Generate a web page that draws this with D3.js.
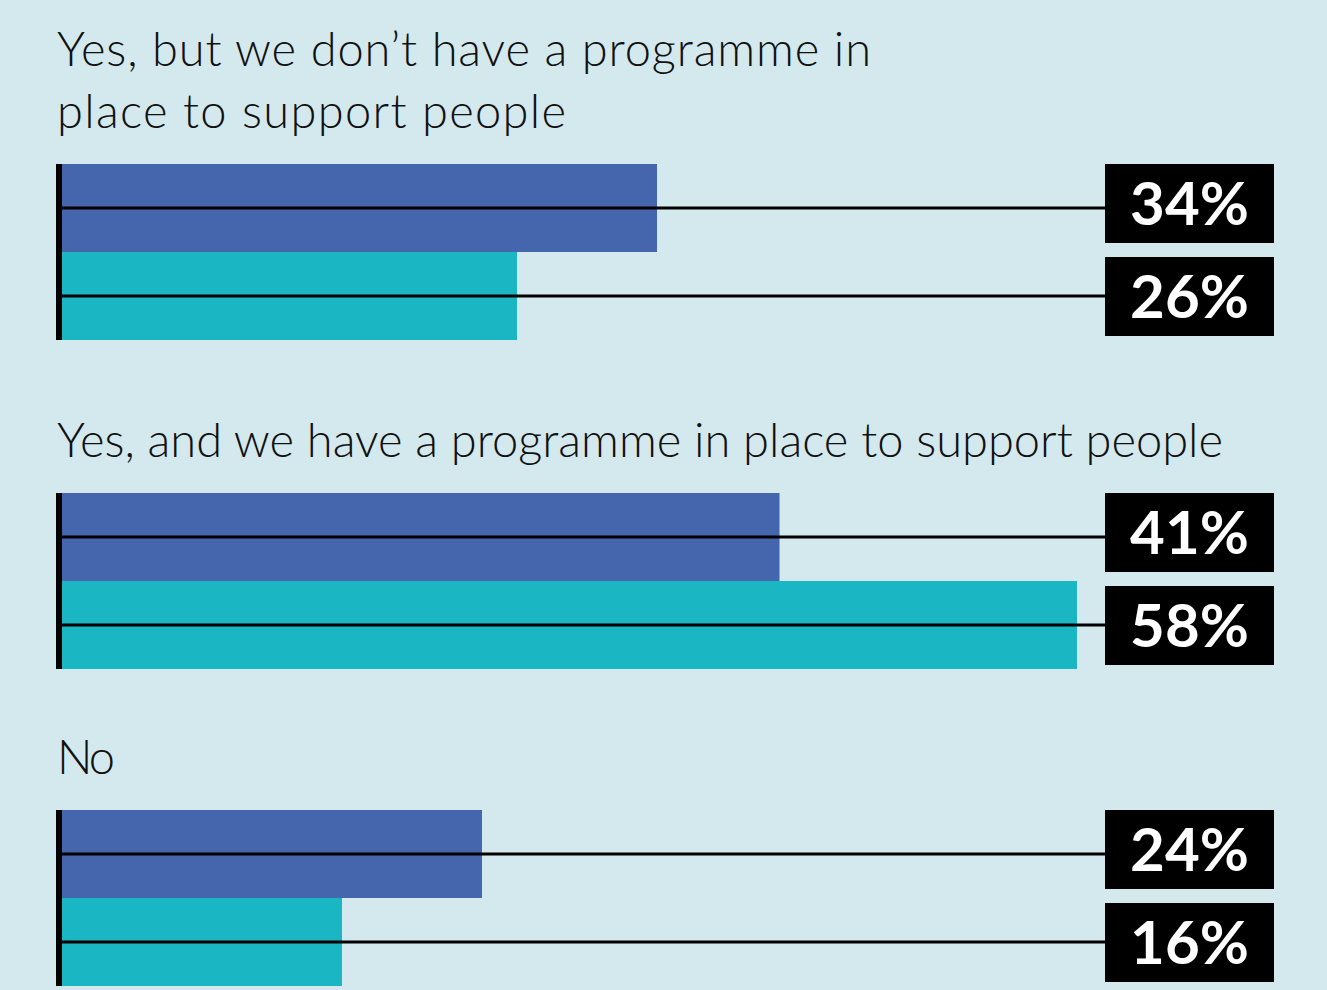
<!DOCTYPE html>
<html>
<head>
<meta charset="utf-8">
<script src="https://cdn.jsdelivr.net/npm/d3@7"></script>
<style>
  html, body { margin: 0; padding: 0; background: #d3e9ee; }
  svg { display: block; }
</style>
</head>
<body>
<svg id="chart" width="1327" height="990"></svg>
<script>
// ---- data ----
const categories = [
  "Yes, but we don\u2019t have a programme in place to support people",
  "Yes, and we have a programme in place to support people",
  "No"
];
const titleLines = [
  ["Yes, but we don\u2019t have a programme in", "place to support people"],
  ["Yes, and we have a programme in place to support people"],
  ["No"]
];
const seriesNames = ["Series A", "Series B"];
const seriesA = [34, 41, 24];
const seriesB = [26, 58, 16];
const valueLabels = [["34%", "26%"], ["41%", "58%"], ["24%", "16%"]];

// ---- styling / layout ----
const W = 1327, H = 990;
const colors = ["#4565ad", "#1bb6c3"];
const bg = "#d3e9ee";
const fontTitle = "Lato, 'Open Sans', sans-serif";
const x0 = 62;
const barH = 88;
const boxX = 1105, boxW = 169, boxH = 79;
const lineH = 62;
const groupTops = [164, 493, 810];
const titleWidths = [[814, 509], [1166], [58]];

const svg = d3.select("#chart");
svg.append("rect").attr("width", W).attr("height", H).attr("fill", bg);

const x = d3.scaleLinear().domain([0, 100]).range([x0, x0 + 1750]);
const inner = d3.scaleBand().domain(seriesNames).range([0, 2 * barH]).padding(0);

categories.forEach((cat, i) => {
  const top = groupTops[i];
  const g = svg.append("g").attr("transform", `translate(0,${top})`);
  const lines = titleLines[i];
  // title
  lines.forEach((ln, j) => {
    g.append("text")
      .attr("font-family", fontTitle)
      .attr("font-weight", 300)
      .attr("font-size", 47)
      .attr("fill", "#111")
      .attr("x", 57)
      .attr("y", -36 - (lines.length - 1 - j) * lineH)
      .attr("textLength", titleWidths[i][j])
      .attr("lengthAdjust", "spacing")
      .text(ln);
  });
  const vals = [seriesA[i], seriesB[i]];
  // bars
  g.selectAll("rect.bar").data(vals).enter().append("rect")
    .attr("class", "bar")
    .attr("x", x(0))
    .attr("y", (d, k) => inner(seriesNames[k]))
    .attr("width", d => x(d) - x(0))
    .attr("height", inner.bandwidth())
    .attr("fill", (d, k) => colors[k]);
  // leader lines
  g.selectAll("line.lead").data(vals).enter().append("line")
    .attr("x1", x(0)).attr("x2", boxX)
    .attr("y1", (d, k) => inner(seriesNames[k]) + inner.bandwidth() / 2)
    .attr("y2", (d, k) => inner(seriesNames[k]) + inner.bandwidth() / 2)
    .attr("stroke", "#000").attr("stroke-width", 3);
  // axis bar
  g.append("rect").attr("x", 56).attr("y", 0).attr("width", 6).attr("height", 2 * barH).attr("fill", "#000");
  // boxes
  const boxTop = k => k === 0 ? inner(seriesNames[0]) : inner(seriesNames[1]) + 5;
  g.selectAll("rect.box").data(vals).enter().append("rect")
    .attr("class", "box")
    .attr("x", boxX).attr("y", (d, k) => boxTop(k))
    .attr("width", boxW).attr("height", boxH)
    .attr("fill", "#000");
  g.selectAll("text.val").data(vals).enter().append("text")
    .attr("class", "val")
    .attr("x", boxX + boxW / 2)
    .attr("y", (d, k) => boxTop(k) + 61)
    .attr("text-anchor", "middle")
    .attr("font-family", fontTitle)
    .attr("font-weight", 700)
    .attr("font-size", 60)
    .attr("fill", "#fff")
    .text((d, k) => valueLabels[i][k]);
});
</script>
</body>
</html>
